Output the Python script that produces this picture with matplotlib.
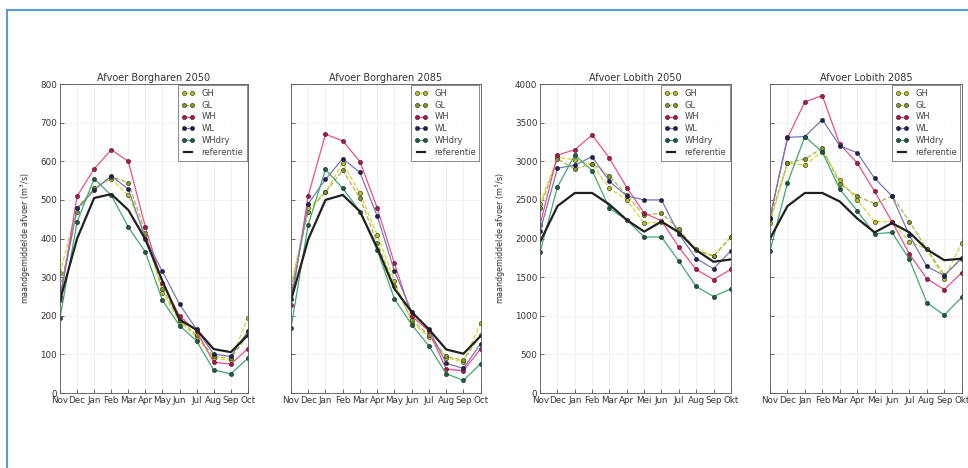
#!/usr/bin/env python3
"""Maandgemiddelde afvoer Borgharen / Lobith voor de KNMI scenario's (2050, 2085)."""

import matplotlib
matplotlib.use("Agg")
import matplotlib.pyplot as plt
from matplotlib.lines import Line2D

months_en = ["Nov", "Dec", "Jan", "Feb", "Mar", "Apr", "May", "Jun", "Jul", "Aug", "Sep", "Oct"]
months_nl = ["Nov", "Dec", "Jan", "Feb", "Mar", "Apr", "Mei", "Jun", "Jul", "Aug", "Sep", "Okt"]

scenarios = ["GH", "GL", "WH", "WL", "WHdry"]

# Borgharen 2050 (m3/s)
borg50_gh = [310, 480, 530, 555, 512, 410, 260, 185, 145, 90, 85, 195]
borg50_gl = [270, 470, 530, 560, 545, 415, 270, 190, 150, 95, 90, 150]
borg50_wh = [240, 510, 580, 630, 600, 430, 285, 200, 160, 80, 75, 115]
borg50_wl = [250, 478, 525, 562, 528, 400, 315, 230, 165, 101, 95, 160]
borg50_whdry = [195, 443, 555, 512, 430, 365, 240, 175, 135, 60, 50, 90]
borg50_ref = [240, 400, 505, 515, 474, 398, 290, 190, 164, 114, 106, 150]

# Borgharen 2085
borg85_gh = [278, 480, 520, 596, 517, 410, 291, 184, 145, 92, 80, 182]
borg85_gl = [270, 470, 520, 577, 505, 389, 278, 190, 150, 95, 85, 150]
borg85_wh = [227, 511, 670, 653, 599, 479, 336, 200, 160, 62, 58, 115]
borg85_wl = [244, 490, 553, 607, 571, 458, 316, 210, 165, 77, 64, 128]
borg85_whdry = [169, 436, 579, 530, 470, 370, 244, 177, 122, 50, 33, 76]
borg85_ref = [240, 398, 500, 513, 470, 376, 270, 210, 165, 113, 102, 148]

# Lobith 2050
lob50_gh = [2450, 3050, 3020, 2960, 2650, 2500, 2200, 2210, 2100, 1860, 1780, 2020]
lob50_gl = [2400, 3030, 2900, 2970, 2810, 2560, 2300, 2330, 2120, 1850, 1770, 2020]
lob50_wh = [2180, 3080, 3150, 3340, 3040, 2660, 2330, 2230, 1890, 1600, 1470, 1600]
lob50_wl = [2100, 2910, 2950, 3060, 2740, 2550, 2500, 2500, 2060, 1740, 1610, 1840]
lob50_whdry = [1830, 2670, 3080, 2880, 2390, 2240, 2020, 2020, 1710, 1380, 1250, 1350]
lob50_ref = [1960, 2420, 2590, 2590, 2440, 2240, 2090, 2220, 2080, 1850, 1700, 1730]

# Lobith 2085
lob85_gh = [2200, 2980, 2950, 3130, 2760, 2500, 2220, 2220, 1960, 1860, 1480, 1940]
lob85_gl = [2250, 2980, 3030, 3170, 2710, 2550, 2450, 2550, 2220, 1860, 1530, 1740]
lob85_wh = [2270, 3300, 3770, 3850, 3220, 2980, 2610, 2220, 1800, 1480, 1340, 1560]
lob85_wl = [2270, 3310, 3320, 3540, 3200, 3110, 2780, 2550, 2040, 1640, 1520, 1750]
lob85_whdry = [1840, 2720, 3320, 3120, 2640, 2360, 2060, 2080, 1730, 1170, 1010, 1240]
lob85_ref = [2000, 2420, 2590, 2590, 2480, 2260, 2080, 2200, 2080, 1860, 1720, 1740]

# line colour, marker colour, linestyle per scenario
styles = {
    "GH": ("#d8d430", "#b8c020", "--"),
    "GL": ("#a8b848", "#7f9a20", "--"),
    "WH": ("#e8508a", "#c0104a", "-"),
    "WL": ("#7878b8", "#202060", "-"),
    "WHdry": ("#40a870", "#1a6040", "-"),
}

panels = [
    ("Afvoer Borgharen 2050", months_en, [borg50_gh, borg50_gl, borg50_wh, borg50_wl, borg50_whdry], borg50_ref, 800, 100, True),
    ("Afvoer Borgharen 2085", months_en, [borg85_gh, borg85_gl, borg85_wh, borg85_wl, borg85_whdry], borg85_ref, 800, 100, False),
    ("Afvoer Lobith 2050", months_nl, [lob50_gh, lob50_gl, lob50_wh, lob50_wl, lob50_whdry], lob50_ref, 4000, 500, True),
    ("Afvoer Lobith 2085", months_nl, [lob85_gh, lob85_gl, lob85_wh, lob85_wl, lob85_whdry], lob85_ref, 4000, 500, False),
]

lefts = [0.062, 0.3006, 0.558, 0.7955]
widths = [0.194, 0.196, 0.197, 0.198]

fig = plt.figure(figsize=(9.68, 4.68), dpi=100)

for (title, labels, series, ref, ymax, ystep, show_y), left, w in zip(panels, lefts, widths):
    ax = fig.add_axes([left, 0.160, w, 0.6605])
    x = list(range(len(labels)))
    for name, vals in zip(scenarios, series):
        lc, mc, ls = styles[name]
        ax.plot(x, vals, ls, color=lc, lw=0.9, marker="o", ms=3.0,
                mfc=mc, mec="#202020", mew=0.4, label=name)
    ax.plot(x, ref, "-", color="#202020", lw=1.6, label="referentie")

    ax.set_xlim(0, len(labels) - 1)
    ax.set_ylim(0, ymax)
    ax.set_xticks(x, labels)
    ax.set_yticks(range(0, ymax + 1, ystep))
    ax.tick_params(direction="in", length=3, width=0.5, labelsize=6.3, colors="#333333", pad=2)
    if show_y:
        ax.set_ylabel("maandgemiddelde afvoer (m$^3$/s)", fontsize=5.8, color="#333333", labelpad=5)
    else:
        ax.tick_params(axis="y", labelleft=False)
    ax.grid(color="#ececec", lw=0.5)
    ax.set_axisbelow(True)
    for sp in ax.spines.values():
        sp.set_linewidth(0.6)
        sp.set_color("#555555")
    ax.set_title(title, fontsize=7.0, color="#333333", pad=2)
    leg = ax.legend(loc="upper right", fontsize=6, labelspacing=0.35, handlelength=1.6,
                    borderpad=0.4, borderaxespad=0.15, fancybox=False, numpoints=2)
    leg.get_frame().set_edgecolor("#555555")
    leg.get_frame().set_linewidth(0.6)
    for t in leg.get_texts():
        t.set_color("#444444")

# blue frame of the document page (top and left edges only)
fig.add_artist(Line2D([7 / 968, 1], [1 - 10 / 468, 1 - 10 / 468], color="#5b9bd5", lw=1.5))
fig.add_artist(Line2D([7 / 968, 7 / 968], [0, 1 - 10 / 468], color="#5b9bd5", lw=1.5))

fig.savefig("out.png", dpi=100)
